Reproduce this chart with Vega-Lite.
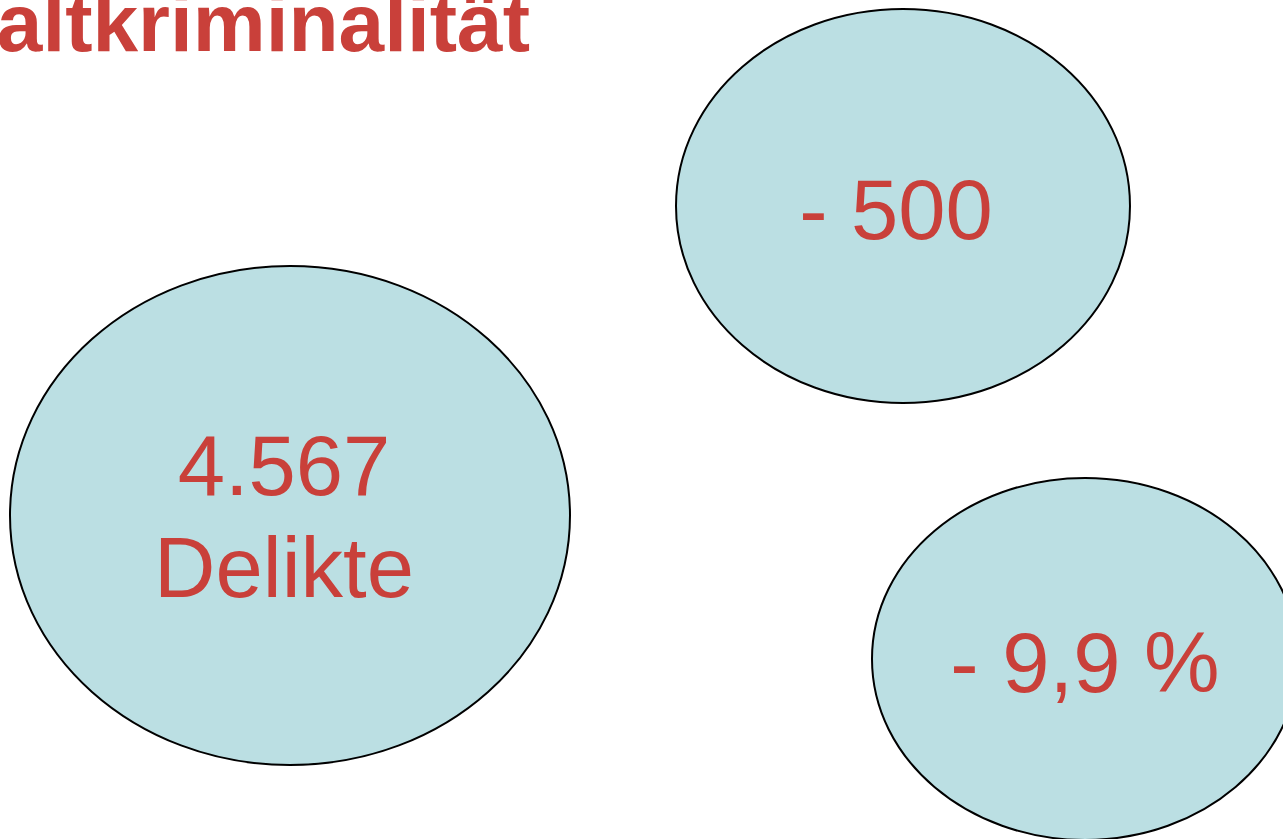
{
  "$schema": "https://vega.github.io/schema/vega-lite/v6.json",
  "width": 1283,
  "height": 839,
  "padding": 0,
  "autosize": {"type": "none"},
  "background": "white",
  "config": {"view": {"stroke": null}},
  "datasets": {
    "ellipses": [
      {"name": "gesamt", "cx": 290, "cy": 515.5},
      {"name": "absolut", "cx": 903, "cy": 206},
      {"name": "prozent", "cx": 1085, "cy": 659}
    ],
    "labels": [
      {"text": "4.567", "x": 284, "y": 495},
      {"text": "Delikte", "x": 284, "y": 597},
      {"text": "- 500", "x": 896, "y": 239},
      {"text": "- 9,9 %", "x": 1085, "y": 692}
    ],
    "title": [
      {"text": "Gewaltkriminalität", "x": 530, "y": 51}
    ]
  },
  "layer": [
    {
      "data": {"name": "ellipses"},
      "mark": {"type": "point", "filled": true, "fill": "#BBDFE3", "stroke": "#000000", "strokeWidth": 2, "opacity": 1, "size": 4},
      "encoding": {
        "x": {"field": "cx", "type": "quantitative", "scale": {"domain": [0, 1283], "nice": false, "zero": false}, "axis": null},
        "y": {"field": "cy", "type": "quantitative", "scale": {"domain": [0, 839], "reverse": true, "nice": false, "zero": false}, "axis": null},
        "shape": {
          "field": "name",
          "type": "nominal",
          "scale": {
            "domain": ["gesamt", "absolut", "prozent"],
            "range": [
              "M-280,0A280,249.5,0,1,0,280,0A280,249.5,0,1,0,-280,0Z",
              "M-227,0A227,197,0,1,0,227,0A227,197,0,1,0,-227,0Z",
              "M-213,0A213,181,0,1,0,213,0A213,181,0,1,0,-213,0Z"
            ]
          },
          "legend": null
        }
      }
    },
    {
      "data": {"name": "labels"},
      "mark": {"type": "text", "font": "Liberation Sans", "fontSize": 85, "fill": "#C9403A", "align": "center", "baseline": "alphabetic"},
      "encoding": {
        "x": {"field": "x", "type": "quantitative"},
        "y": {"field": "y", "type": "quantitative"},
        "text": {"field": "text", "type": "nominal"}
      }
    },
    {
      "data": {"name": "title"},
      "mark": {"type": "text", "font": "Liberation Sans", "fontSize": 82, "fontWeight": "bold", "fill": "#C9403A", "align": "right", "baseline": "alphabetic"},
      "encoding": {
        "x": {"field": "x", "type": "quantitative"},
        "y": {"field": "y", "type": "quantitative"},
        "text": {"field": "text", "type": "nominal"}
      }
    }
  ]
}
